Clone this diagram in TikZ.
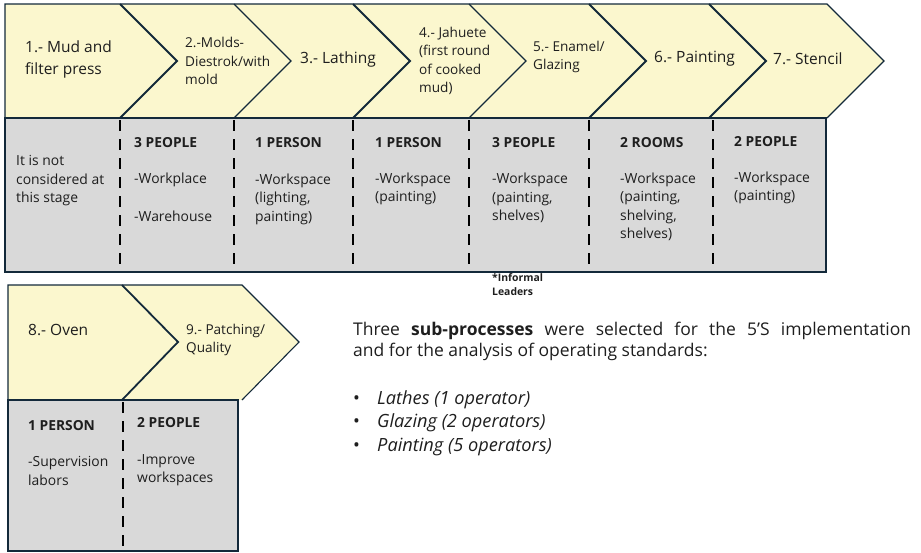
\documentclass[tikz,border=0pt]{standalone}
\usepackage{fontspec}
\setmainfont{Open Sans}
\usetikzlibrary{positioning}

\definecolor{chevfill}{HTML}{FBF7CE}
\definecolor{infofill}{HTML}{D9D9D9}
\definecolor{edgeline}{HTML}{13293A}
\definecolor{txt}{HTML}{1E1E1E}

\begin{document}
\begin{tikzpicture}[
    x=1pt, y=-1pt,
    band/.style={fill=chevfill},
    info/.style={fill=infofill, draw=edgeline, line width=1.3pt},
    chevline/.style={draw=edgeline, line width=1.1pt, line join=miter},
    divider/.style={draw=black, line width=2.4pt, dash pattern=on 11pt off 8pt},
    stage/.style={anchor=west, align=left, inner sep=0pt, text=txt,
                  font=\fontsize{15.5}{22}\selectfont},
    substage/.style={stage, font=\fontsize{13.6}{18.5}\selectfont},
    head/.style={anchor=west, inner sep=0pt, text=txt,
                 font=\fontsize{13.8}{16}\selectfont\bfseries},
    note/.style={anchor=west, align=left, inner sep=0pt, text=txt,
                 font=\fontsize{13.9}{18.5}\selectfont},
    remark/.style={note, font=\fontsize{10.4}{14}\selectfont\bfseries},
    item/.style={anchor=west, inner sep=0pt, text=txt,
                 font=\fontsize{18.2}{20}\selectfont\itshape}
  ]
  \useasboundingbox (0,0) rectangle (921,552);

  % Upper chain: band, panel and stage borders
  \fill[band] (5,4) -- (827,4) -- (884,61) -- (827,118) -- (5,118) -- cycle;
  \path[info] (5,118) rectangle (826,272);
  \draw[chevline] (5,118) -- (5,4) -- (827,4) -- (884,61) -- (827,118);
  \foreach \xb/\lw in {120/1.8, 234/1.1, 353/1.8, 469/1.1, 589/1.8, 709/1.8}
    \draw[edgeline, line width=\lw pt] (\xb,4) -- (\xb+57,61) -- (\xb,118);
  \foreach \xb in {120,234,353,469,589,713}
    \draw[divider] (\xb,120) -- (\xb,272);

  % Stage names
  \node[stage] (s1) at (25,59) {1.- Mud and\\filter press};
  \node[substage] (s2) at (185,61) {2.-Molds-\\Diestrok/with\\mold};
  \node[stage] (s3) at (300,59) {3.- Lathing};
  \node[substage] (s4) at (419,61) {4.- Jahuete\\(first round\\of cooked\\mud)};
  \node[substage] (s5) at (533,57) {5.- Enamel/\\Glazing};
  \node[stage] (s6) at (654,59) {6.- Painting};
  \node[stage] (s7) at (773,59) {7.- Stencil};

  % Staff and workspaces
  \node[note] (c1) at (16,181) {It is not\\considered at\\this stage};
  \node[head] (h2) at (134,143) {3 PEOPLE};
  \node[note] (w2a) at (134,180) {-Workplace};
  \node[note] (w2b) at (134,216) {-Warehouse};
  \node[head] (h3) at (255,143) {1 PERSON};
  \node[note] (w3) at (255,199) {-Workspace\\(lighting,\\painting)};
  \node[head] (h4) at (375,143) {1 PERSON};
  \node[note] (w4) at (375,189) {-Workspace\\(painting)};
  \node[head] (h5) at (492,143) {3 PEOPLE};
  \node[note] (w5) at (492,198) {-Workspace\\(painting,\\shelves)};
  \node[head] (h6) at (620,143) {2 ROOMS};
  \node[note] (w6) at (620,207) {-Workspace\\(painting,\\shelving,\\shelves)};
  \node[head] (h7) at (734,142) {2 PEOPLE};
  \node[note] (w7) at (734,188) {-Workspace\\(painting)};
  \node[remark] (lead) at (492,285) {*Informal\\Leaders};

  % Lower chain
  \fill[band] (8,285) -- (242,285) -- (299,342) -- (242,400) -- (8,400) -- cycle;
  \path[info] (8,400) rectangle (238,551);
  \draw[chevline] (8,400) -- (8,285) -- (242,285) -- (299,342) -- (242,400);
  \draw[edgeline, line width=1.8pt] (122,285) -- (178,342) -- (122,400);
  \draw[divider] (123,402) -- (123,551);

  \node[stage] (s8) at (28,330) {8.- Oven};
  \node[substage] (s9) at (186,340) {9.- Patching/\\Quality};
  \node[head] (h8) at (28,426) {1 PERSON};
  \node[note] (w8) at (28,471) {-Supervision\\labors};
  \node[head] (h9) at (137,423) {2 PEOPLE};
  \node[note] (w9) at (137,470) {-Improve\\workspaces};

  % Selected sub-processes
  \node[anchor=west, inner sep=0pt, text=txt, text width=558pt, align=justify,
        font=\fontsize{17.5}{21}\selectfont] (sel) at (353,341)
    {Three \textbf{sub-processes} were selected for the 5'S implementation\linebreak
     and for the analysis of operating standards:};
  \node[item] (l1) at (353,400) {\makebox[24pt][l]{\upshape\textbullet}Lathes (1 operator)};
  \node[item] (l2) at (353,423) {\makebox[24pt][l]{\upshape\textbullet}Glazing (2 operators)};
  \node[item] (l3) at (353,447) {\makebox[24pt][l]{\upshape\textbullet}Painting (5 operators)};
\end{tikzpicture}
\end{document}
